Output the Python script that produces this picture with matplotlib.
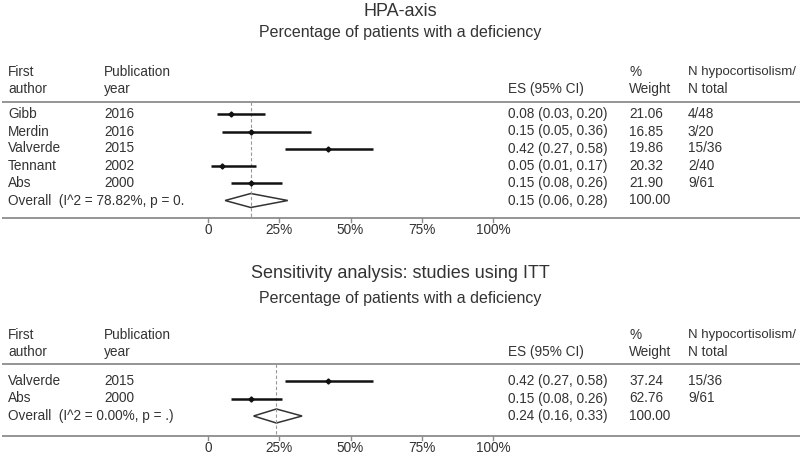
import matplotlib
matplotlib.use("Agg")
import matplotlib.pyplot as plt
from matplotlib.patches import Polygon

plt.rcParams['font.family'] = ['Liberation Sans', 'DejaVu Sans']

# ---- Data: panel 1 (HPA-axis) ----
authors1 = ["Gibb", "Merdin", "Valverde", "Tennant", "Abs"]
years1 = ["2016", "2016", "2015", "2002", "2000"]
es1 = [0.08, 0.15, 0.42, 0.05, 0.15]
lo1 = [0.03, 0.05, 0.27, 0.01, 0.08]
hi1 = [0.20, 0.36, 0.58, 0.17, 0.26]
weight1 = ["21.06", "16.85", "19.86", "20.32", "21.90"]
n1 = ["4/48", "3/20", "15/36", "2/40", "9/61"]
overall1 = (0.15, 0.06, 0.28)
overall_label1 = "Overall  (I^2 = 78.82%, p = 0."

# ---- Data: panel 2 (sensitivity ITT) ----
authors2 = ["Valverde", "Abs"]
years2 = ["2015", "2000"]
es2 = [0.42, 0.15]
lo2 = [0.27, 0.08]
hi2 = [0.58, 0.26]
weight2 = ["37.24", "62.76"]
n2 = ["15/36", "9/61"]
overall2 = (0.24, 0.16, 0.33)
overall_label2 = "Overall  (I^2 = 0.00%, p = .)"

ticks = [0, 0.25, 0.5, 0.75, 1.0]
tick_labels = ["0", "25%", "50%", "75%", "100%"]

W, H = 800, 459
fig = plt.figure(figsize=(8, 4.59), dpi=100)
ax = fig.add_axes([0, 0, 1, 1])
# x: effect scale (0 -> px 208, 1 -> px 493); y: pixel rows
x0, scale = 208.0, 285.0
ax.set_xlim(-x0 / scale, (W - x0) / scale)
ax.set_ylim(H, 0)
ax.axis("off")

TXT = "#333333"
RULE = "#8c8c8c"
FS = 9.8

def px(p):
    return (p - x0) / scale

col_author = px(8)
col_year = px(104)
col_es = px(508)
col_w = px(629)
col_n = px(688)
rule_l, rule_r = px(2), px(800)


def panel(title, subtitle, ty, sy, hy1, hy2, rule_top, rows_y, overall_y, rule_bot,
          authors, years, es, lo, hi, weights, ns, overall, overall_label):
    ax.text(px(400), ty, title, fontsize=13, color=TXT, ha="center", va="center")
    ax.text(px(400), sy, subtitle, fontsize=11.5, color=TXT, ha="center", va="center")
    # header
    ax.text(col_author, hy1, "First", fontsize=FS, color=TXT, va="center")
    ax.text(col_author, hy2, "author", fontsize=FS, color=TXT, va="center")
    ax.text(col_year, hy1, "Publication", fontsize=FS, color=TXT, va="center")
    ax.text(col_year, hy2, "year", fontsize=FS, color=TXT, va="center")
    ax.text(col_es, hy2, "ES (95% CI)", fontsize=FS, color=TXT, va="center")
    ax.text(col_w, hy1, "%", fontsize=FS, color=TXT, va="center")
    ax.text(col_w, hy2, "Weight", fontsize=FS, color=TXT, va="center")
    ax.text(col_n, hy1, "N hypocortisolism/", fontsize=9.5, color=TXT, va="center")
    ax.text(col_n, hy2, "N total", fontsize=FS, color=TXT, va="center")
    # rules
    ax.plot([rule_l, rule_r], [rule_top, rule_top], color=RULE, lw=1.3, solid_capstyle="butt")
    ax.plot([rule_l, rule_r], [rule_bot, rule_bot], color=RULE, lw=1.3, solid_capstyle="butt")
    # overall dashed line
    ax.plot([overall[0], overall[0]], [rule_top, rule_bot], color="#999999", lw=0.8,
            linestyle=(0, (3, 2)))
    # study rows
    for i, y in enumerate(rows_y):
        ax.text(col_author, y, authors[i], fontsize=FS, color=TXT, va="center")
        ax.text(col_year, y, years[i], fontsize=FS, color=TXT, va="center")
        ax.text(col_es, y, f"{es[i]:.2f} ({lo[i]:.2f}, {hi[i]:.2f})", fontsize=FS,
                color=TXT, va="center")
        ax.text(col_w, y, weights[i], fontsize=FS, color=TXT, va="center")
        ax.text(col_n, y, ns[i], fontsize=FS, color=TXT, va="center")
        ax.plot([lo[i], hi[i]], [y, y], color="#111111", lw=1.8, solid_capstyle="butt")
        ax.plot([es[i]], [y], marker="D", color="#111111", markersize=2.6)
    # overall row
    e, l, h = overall
    ax.text(col_author, overall_y, overall_label, fontsize=FS, color=TXT, va="center")
    ax.text(col_es, overall_y, f"{e:.2f} ({l:.2f}, {h:.2f})", fontsize=FS, color=TXT,
            va="center")
    ax.text(col_w, overall_y, "100.00", fontsize=FS, color=TXT, va="center")
    dia = Polygon([(l, overall_y), (e, overall_y - 7), (h, overall_y), (e, overall_y + 7)],
                  closed=True, fill=False, edgecolor="#333333", lw=1.1)
    ax.add_patch(dia)
    # axis ticks
    for t, lab in zip(ticks, tick_labels):
        ax.plot([t, t], [rule_bot, rule_bot + 4], color=RULE, lw=1.0)
        ax.text(t, rule_bot + 11.5, lab, fontsize=FS, color=TXT, ha="center", va="center")


panel("HPA-axis", "Percentage of patients with a deficiency", 11, 32, 72, 89, 102,
      [114, 131.5, 148.5, 166, 183], 200.5, 218,
      authors1, years1, es1, lo1, hi1, weight1, n1, overall1, overall_label1)

panel("Sensitivity analysis: studies using ITT", "Percentage of patients with a deficiency",
      274, 299, 335, 352, 364, [381, 398.5], 416, 436,
      authors2, years2, es2, lo2, hi2, weight2, n2, overall2, overall_label2)

fig.savefig("out.png", dpi=100, facecolor="white")
